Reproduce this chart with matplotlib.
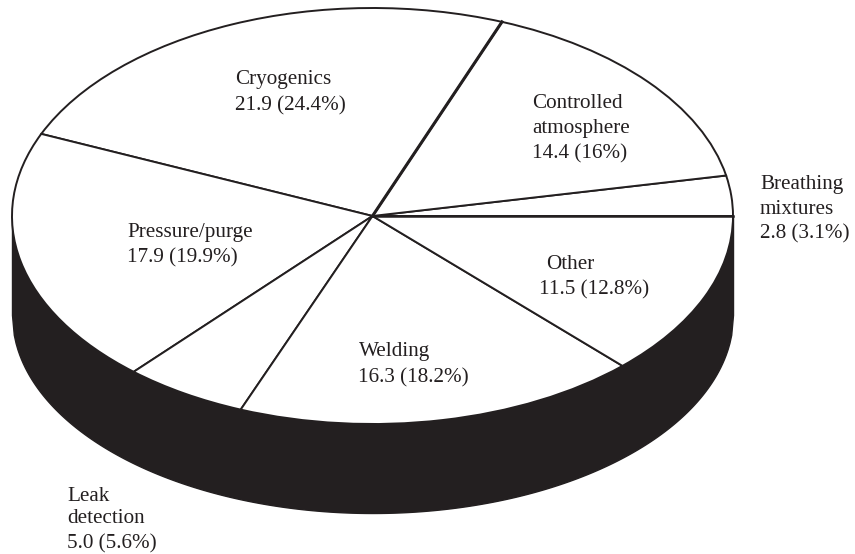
import numpy as np
import matplotlib
matplotlib.use("Agg")
import matplotlib.pyplot as plt

# counterclockwise from the horizontal right-hand edge of the pie
values = [2.8, 14.4, 21.9, 17.9, 5.0, 16.3, 11.5]
percents = ["3.1", "16", "24.4", "19.9", "5.6", "18.2", "12.8"]
names = [
    ["Breathing", "mixtures"],
    ["Controlled", "atmosphere"],
    ["Cryogenics"],
    ["Pressure/purge"],
    ["Leak", "detection"],
    ["Welding"],
    ["Other"],
]

INK = "#231f20"
W, H = 855, 554
CX, CY, RX, RY = 372.5, 216, 360.5, 208
DEPTH, RY_BOTTOM = 99, 198

# pixel position (left, baseline) for each line of each label
label_pos = [
    [(760, 189), (760, 214), (760, 238)],
    [(532, 108), (532, 133), (532, 158)],
    [(235, 84), (235, 110)],
    [(127, 237), (127, 262)],
    [(67, 501), (67, 523), (67, 548)],
    [(359, 356), (358, 382)],
    [(546, 269), (539, 294)],
]

plt.rcParams["font.family"] = ["Liberation Serif", "DejaVu Serif"]

fig = plt.figure(figsize=(W / 100, H / 100), dpi=100, facecolor="white")
ax = fig.add_axes([0, 0, 1, 1])

ax.pie(
    values,
    startangle=0,
    counterclock=True,
    colors=["white"] * len(values),
    wedgeprops={"edgecolor": INK, "linewidth": 1.4, "zorder": 2},
)

# the squashed pie: one data unit is RX pixels across, RY pixels down
ax.set_aspect("auto")
ax.set_xlim(-CX / RX, (W - CX) / RX)
ax.set_ylim((CY - H) / RY, CY / RY)
ax.axis("off")

# side wall of the disc
x = np.linspace(-1, 1, 400)
lower = -DEPTH / RY - RY_BOTTOM / RY * np.sqrt(1 - x**2)
ax.fill_between(x, 0, lower, color=INK, linewidth=1, zorder=1)

# heavier slice borders (Controlled/Cryogenics and the zero edge)
cum = np.cumsum(values) / np.sum(values) * 2 * np.pi
ax.plot([0, np.cos(cum[1])], [0, np.sin(cum[1])], color=INK, lw=2.2, zorder=3)
ax.plot([0, 1], [0, 0], color=INK, lw=1.8, zorder=3)

for name, val, pct, pos in zip(names, values, percents, label_pos):
    lines = name + [f"{val} ({pct}%)"]
    for line, (px, py) in zip(lines, pos):
        fig.text(px / W, 1 - py / H, line, fontsize=15.2, color=INK,
                 ha="left", va="baseline")

fig.savefig("out.png", dpi=100)
